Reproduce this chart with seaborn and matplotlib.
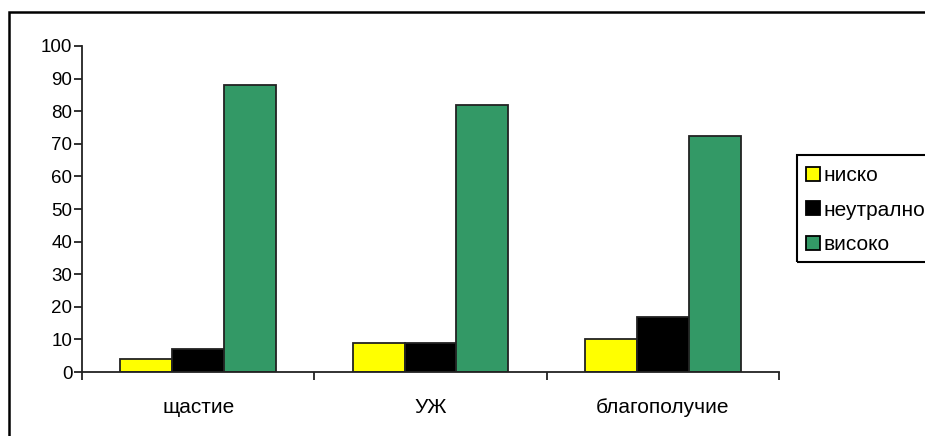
import pandas as pd
import seaborn as sns
import matplotlib.pyplot as plt
from matplotlib.patches import Rectangle

categories = ['щастие', 'УЖ', 'благополучие']
levels = ['ниско', 'неутрално', 'високо']
nisko = [4, 9, 10]
neutralno = [7, 9, 16.8]
visoko = [88, 82, 72.4]
colors = ['#FFFF00', '#000000', '#339966']


def build_frame():
    rows = []
    for level, vals in zip(levels, [nisko, neutralno, visoko]):
        for cat, v in zip(categories, vals):
            rows.append({'category': cat, 'level': level, 'value': v})
    return pd.DataFrame(rows)


def main():
    df = build_frame()
    sns.set_style('white')
    plt.rcParams['font.family'] = ['Liberation Sans', 'DejaVu Sans']
    plt.rcParams['text.color'] = 'black'

    W, H = 925, 436
    fig = plt.figure(figsize=(W / 100, H / 100), dpi=100)
    ax = fig.add_axes([82 / W, 1 - 372 / H, (779 - 82) / W, (372 - 46) / H])

    sns.barplot(data=df, x='category', y='value', hue='level', hue_order=levels,
                palette=colors, saturation=1, width=0.67, gap=0, edgecolor='#222222',
                linewidth=1.3, ax=ax, legend=False)

    ax.set_xlim(-0.5, 2.5)
    ax.set_ylim(0, 100)
    ax.set_yticks(range(0, 101, 10))
    ax.set_xticks([-0.5, 0.5, 1.5, 2.5])
    ax.set_xticklabels([])
    ax.set_xticks([0, 1, 2], minor=True)
    ax.set_xticklabels(categories, minor=True)
    ax.tick_params(axis='x', which='minor', bottom=False, length=0, pad=19,
                   labelsize=15, labelcolor='black')
    ax.tick_params(axis='x', which='major', bottom=True, direction='out', length=6,
                   width=1.3, color='#222222')
    ax.tick_params(axis='y', left=True, direction='out', length=6, width=1.3,
                   color='#222222', labelsize=13.5, labelcolor='black', pad=1)
    ax.set_xlabel('')
    ax.set_ylabel('')
    for s in ['top', 'right']:
        ax.spines[s].set_visible(False)
    for s in ['left', 'bottom']:
        ax.spines[s].set_color('#222222')
        ax.spines[s].set_linewidth(1.3)

    # outer chart frame (runs past the right and bottom edges)
    fig.patches.append(Rectangle((9 / W, -0.1), 1.2, 1 - 12 / H + 0.1, transform=fig.transFigure,
                                 fill=False, edgecolor='black', linewidth=1.8, clip_on=False))
    # legend frame
    fig.patches.append(Rectangle((797 / W, 1 - 262 / H), 0.3, (262 - 155) / H,
                                 transform=fig.transFigure, fill=False, edgecolor='black',
                                 linewidth=1.5, clip_on=False))

    handles = [Rectangle((0, 0), 1, 1, facecolor=c, edgecolor='black', linewidth=1.3)
               for c in colors]
    fig.legend(handles, levels, loc='upper left', bbox_to_anchor=(806 / W, 1 - 166 / H),
               frameon=False, fontsize=15, handlelength=0.65, handleheight=0.65,
               handletextpad=0.2, labelspacing=0.75, borderaxespad=0, borderpad=0)

    fig.savefig('out.png', dpi=100)
    plt.close('all')


if __name__ == '__main__':
    main()
